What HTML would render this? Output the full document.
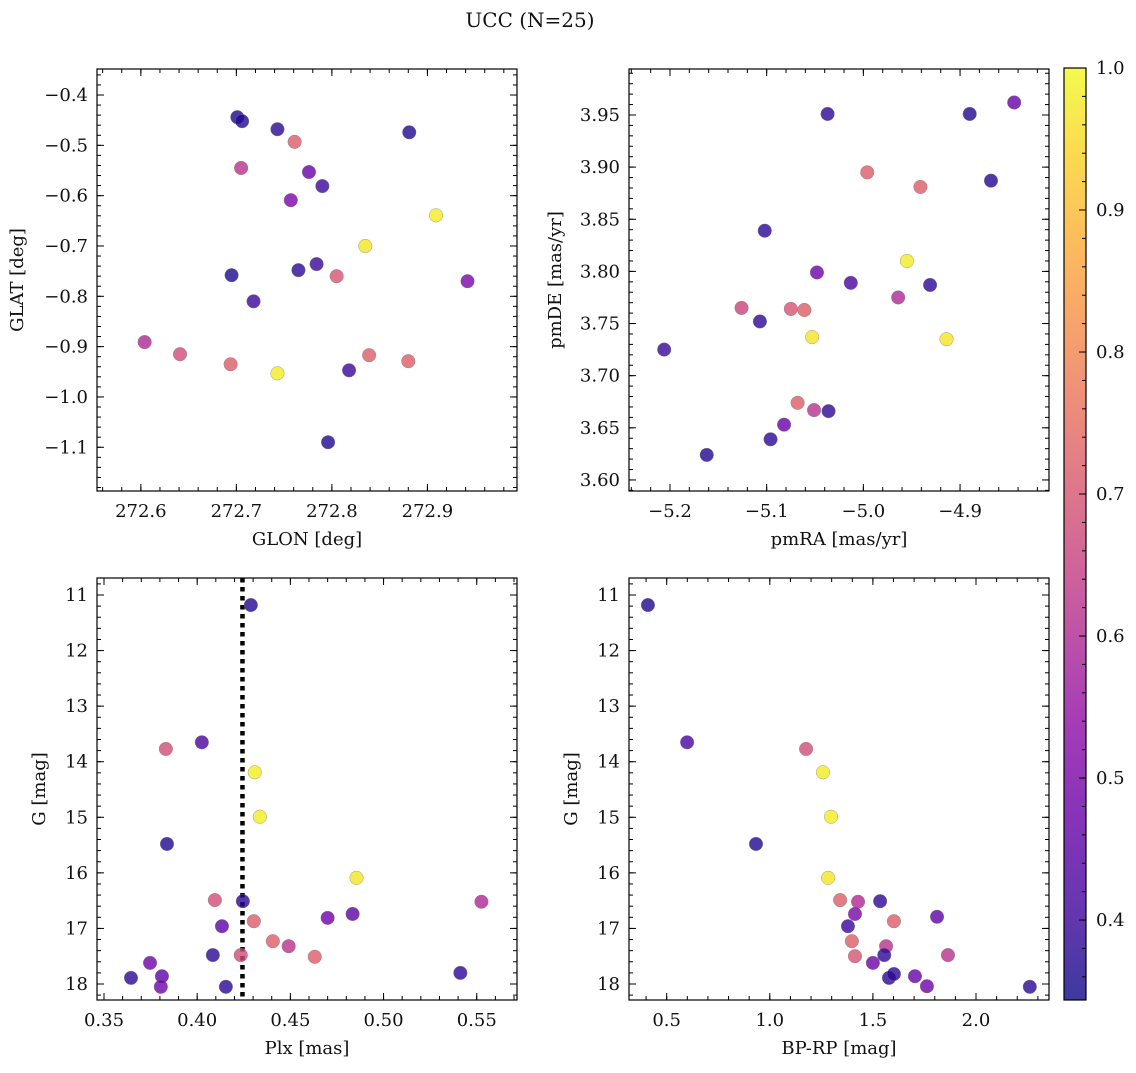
<!DOCTYPE html>
<html><head><meta charset="utf-8"><style>
body{margin:0;background:#fff;}
svg text{font-family:"DejaVu Serif","Liberation Serif",serif;fill:#111;}
</style></head><body>
<svg id="fig" width="1136" height="1068" xmlns="http://www.w3.org/2000/svg">
<text x="530" y="27" font-size="20" text-anchor="middle">UCC (N=25)</text>
</svg>
<script>
// Panel 1: GLON vs GLAT
const glonX=[272.701,272.706,272.743,272.761,272.881,272.705,272.776,272.790,272.757,272.909,272.835,272.765,272.784,272.805,272.695,272.718,272.942,272.604,272.641,272.694,272.743,272.818,272.839,272.880,272.796];
const glatY=[-0.444,-0.452,-0.468,-0.493,-0.474,-0.545,-0.553,-0.581,-0.609,-0.639,-0.700,-0.748,-0.736,-0.760,-0.758,-0.810,-0.770,-0.891,-0.915,-0.935,-0.953,-0.947,-0.917,-0.929,-1.090];
const glatC=[0.36,0.37,0.38,0.72,0.37,0.62,0.47,0.40,0.50,0.98,0.97,0.38,0.40,0.70,0.36,0.40,0.50,0.60,0.68,0.72,0.98,0.40,0.72,0.72,0.37];
// Panel 2: pmRA vs pmDE
const pmraX=[-4.844,-4.890,-5.037,-4.996,-4.941,-4.868,-5.102,-4.955,-5.048,-5.013,-4.931,-4.964,-5.126,-5.075,-5.061,-5.107,-5.053,-4.914,-5.206,-5.068,-5.051,-5.036,-5.082,-5.096,-5.162];
const pmdeY=[3.962,3.951,3.951,3.895,3.881,3.887,3.839,3.810,3.799,3.789,3.787,3.775,3.765,3.764,3.763,3.752,3.737,3.735,3.725,3.674,3.667,3.666,3.653,3.639,3.624];
const pmC=[0.47,0.37,0.38,0.72,0.72,0.37,0.38,0.98,0.48,0.42,0.38,0.60,0.66,0.70,0.72,0.38,0.97,0.97,0.40,0.72,0.62,0.38,0.47,0.38,0.37];
// Panel 3: Plx vs G
const plxX=[0.4288,0.3832,0.4025,0.4309,0.4336,0.3838,0.4855,0.4095,0.4245,0.5525,0.4304,0.4700,0.4834,0.4133,0.4406,0.4491,0.4084,0.4234,0.4631,0.3747,0.3645,0.3811,0.3805,0.4154,0.5412];
const plxG=[11.18,13.77,13.65,14.19,14.99,15.48,16.09,16.49,16.51,16.52,16.87,16.81,16.74,16.96,17.23,17.32,17.48,17.48,17.51,17.62,17.89,17.86,18.05,18.05,17.80];
const plxC=[0.37,0.68,0.42,0.98,0.98,0.37,0.97,0.68,0.38,0.60,0.72,0.48,0.45,0.45,0.72,0.62,0.38,0.68,0.72,0.48,0.38,0.45,0.48,0.38,0.38];
const plxLine=[0.4243];
// Panel 4: BP-RP vs G
const bprpX=[0.409,0.599,1.176,1.258,1.297,0.933,1.283,1.341,1.535,1.428,1.602,1.811,1.413,1.379,1.398,1.564,1.555,1.413,1.864,1.500,1.578,1.602,1.704,1.762,2.261];
const bprpG=[11.18,13.65,13.77,14.19,14.99,15.48,16.09,16.49,16.51,16.52,16.87,16.79,16.74,16.96,17.23,17.32,17.48,17.50,17.48,17.62,17.89,17.82,17.86,18.04,18.05];
const bprpC=[0.37,0.42,0.68,0.98,0.98,0.37,0.97,0.72,0.38,0.60,0.72,0.45,0.50,0.40,0.72,0.62,0.38,0.70,0.62,0.48,0.38,0.38,0.47,0.48,0.38];
// tick labels
const p1XTicks=[272.6,272.7,272.8,272.9];
const p1YTicks=[-0.4,-0.5,-0.6,-0.7,-0.8,-0.9,-1.0,-1.1];
const p2XTicks=[-5.2,-5.1,-5.0,-4.9];
const p2YTicks=[3.60,3.65,3.70,3.75,3.80,3.85,3.90,3.95];
const p3XTicks=[0.35,0.40,0.45,0.50,0.55];
const gTicks=[11,12,13,14,15,16,17,18];
const p4XTicks=[0.5,1.0,1.5,2.0];
const cbTicks=[0.4,0.5,0.6,0.7,0.8,0.9,1.0];
const cMin=0.3437, cMax=1.0;

const NS="http://www.w3.org/2000/svg";
const svg=document.getElementById('fig');
function mk(tag,attrs,parent){const e=document.createElementNS(NS,tag);for(const k in attrs)e.setAttribute(k,attrs[k]);(parent||svg).appendChild(e);return e;}
const stops=[[13,8,135],[65,4,157],[106,0,168],[143,13,164],[177,42,144],[204,71,120],[225,100,98],[242,132,75],[252,166,54],[252,206,37],[240,249,33]];
function plasma(v){let t=(v-cMin)/(cMax-cMin);t=Math.max(0,Math.min(1,t));const f=t*10,i=Math.min(9,Math.floor(f)),r=f-i;const a=stops[i],b=stops[i+1];return 'rgb('+a.map((x,k)=>Math.round(x+(b[k]-x)*r)).join(',')+')';}
function fmt(v,d){return (v<0?'\u2212':'')+Math.abs(v).toFixed(d);}

function panel(o){
  const g=mk('g',{});
  
  
  const sx=v=>o.x0+(v-o.xmin)/(o.xmax-o.xmin)*(o.x1-o.x0);
  const sy=v=>o.invert? o.y0+(v-o.ymin)/(o.ymax-o.ymin)*(o.y1-o.y0) : o.y1-(v-o.ymin)/(o.ymax-o.ymin)*(o.y1-o.y0);
  const tk=mk('g',{stroke:'#000','stroke-width':1},g);
  
  
  const lo=Math.ceil(o.xmin/o.xminor-1e-6),hi=Math.floor(o.xmax/o.xminor+1e-6);
  for(let i=lo;i<=hi;i++){const x=sx(i*o.xminor);mk('line',{x1:x,x2:x,y1:o.y1,y2:o.y1-4},tk);mk('line',{x1:x,x2:x,y1:o.y0,y2:o.y0+4},tk);}
  const ylo=Math.ceil(Math.min(o.ymin,o.ymax)/o.yminor-1e-6),yhi=Math.floor(Math.max(o.ymin,o.ymax)/o.yminor+1e-6);
  for(let i=ylo;i<=yhi;i++){const y=sy(i*o.yminor);mk('line',{x1:o.x0,x2:o.x0+4,y1:y,y2:y},tk);mk('line',{x1:o.x1,x2:o.x1-4,y1:y,y2:y},tk);}
  o.xt.forEach(v=>{const x=sx(v);mk('line',{x1:x,x2:x,y1:o.y1,y2:o.y1-7},tk);mk('line',{x1:x,x2:x,y1:o.y0,y2:o.y0+7},tk);
    const t=mk('text',{x:x,y:o.y1+26,'font-size':18,'text-anchor':'middle'},g);t.textContent=fmt(v,o.xd);
    });
  o.yt.forEach(v=>{const y=sy(v);mk('line',{x1:o.x0,x2:o.x0+7,y1:y,y2:y},tk);mk('line',{x1:o.x1,x2:o.x1-7,y1:y,y2:y},tk);
    const t=mk('text',{x:o.x0-9,y:y+6,'font-size':18,'text-anchor':'end'},g);t.textContent=fmt(v,o.yd);
    });
  if(o.vline){o.vline.forEach(v=>{const l=mk('line',{x1:sx(v),x2:sx(v),y1:o.y0,y2:o.y1,stroke:'#000','stroke-width':4.5,'stroke-dasharray':'4.5,4.5'},g);
    });}
  o.xs.forEach((v,i)=>{const c=mk('circle',{cx:sx(v),cy:sy(o.ys[i]),r:6.8,fill:plasma(o.cs[i]),'fill-opacity':0.8,stroke:'#777','stroke-width':0.5,'stroke-opacity':0.7},g);
    });
  const fr=mk('rect',{x:o.x0,y:o.y0,width:o.x1-o.x0,height:o.y1-o.y0,fill:'none',stroke:'#000','stroke-width':1.2},g);
  
  const xl=mk('text',{x:(o.x0+o.x1)/2,y:o.y1+54,'font-size':18,'text-anchor':'middle'},g);xl.textContent=o.xlabel;
  
  const cy=(o.y0+o.y1)/2;
  const yl=mk('text',{x:o.ylx,y:cy,'font-size':18,'text-anchor':'middle',transform:'rotate(-90 '+o.ylx+' '+cy+')'},g);yl.textContent=o.ylabel;
  
}
panel({name:'glon-glat-panel',x0:97,x1:517,y0:69,y1:491,xmin:272.5541,xmax:272.9938,ymin:-1.1869,ymax:-0.3483,xminor:0.02,yminor:0.02,xt:p1XTicks,yt:p1YTicks,xd:1,yd:1,xs:glonX,ys:glatY,cs:glatC,xlabel:'GLON [deg]',ylabel:'GLAT [deg]',ylx:23});
panel({name:'pm-panel',x0:629,x1:1049,y0:69,y1:491,xmin:-5.2424,xmax:-4.808,ymin:3.5894,ymax:3.9941,xminor:0.02,yminor:0.01,xt:p2XTicks,yt:p2YTicks,xd:1,yd:2,xs:pmraX,ys:pmdeY,cs:pmC,xlabel:'pmRA [mas/yr]',ylabel:'pmDE [mas/yr]',ylx:561});
panel({name:'plx-g-panel',x0:97,x1:517,y0:578,y1:1000,xmin:0.34625,xmax:0.5716,ymin:10.694,ymax:18.288,invert:true,xminor:0.01,yminor:0.2,xt:p3XTicks,yt:gTicks,xd:2,yd:0,xs:plxX,ys:plxG,cs:plxC,vline:plxLine,xlabel:'Plx [mas]',ylabel:'G [mag]',ylx:45});
panel({name:'cmd-panel',x0:629,x1:1049,y0:578,y1:1000,xmin:0.3172,xmax:2.354,ymin:10.694,ymax:18.288,invert:true,xminor:0.1,yminor:0.2,xt:p4XTicks,yt:gTicks,xd:1,yd:0,xs:bprpX,ys:bprpG,cs:bprpC,xlabel:'BP-RP [mag]',ylabel:'G [mag]',ylx:577});

const cb=mk('g',{});


const defs=mk('defs',{},cb);
const lg=mk('linearGradient',{id:'plasmaGrad',x1:0,y1:1,x2:0,y2:0},defs);
for(let i=0;i<=20;i++){const v=cMin+(cMax-cMin)*i/20;mk('stop',{offset:(i/20),'stop-color':plasma(v),'stop-opacity':0.8},lg);}
const CB={x0:1064,x1:1086,y0:68,y1:1000};
const cs=v=>CB.y1-(v-cMin)/(cMax-cMin)*(CB.y1-CB.y0);
mk('rect',{x:CB.x0,y:CB.y0,width:CB.x1-CB.x0,height:CB.y1-CB.y0,fill:'url(#plasmaGrad)'},cb);
for(let v=0.36;v<=1.0001;v+=0.02){const y=cs(v);mk('line',{x1:CB.x1,x2:CB.x1-4,y1:y,y2:y,stroke:'#000','stroke-width':1},cb);}
cbTicks.forEach(v=>{const y=cs(v);mk('line',{x1:CB.x1,x2:CB.x1-7,y1:y,y2:y,stroke:'#000','stroke-width':1},cb);
  const t=mk('text',{x:CB.x1+10,y:y+6,'font-size':18},cb);t.textContent=v.toFixed(1);
  });
mk('rect',{x:CB.x0,y:CB.y0,width:CB.x1-CB.x0,height:CB.y1-CB.y0,fill:'none',stroke:'#000','stroke-width':1.2},cb);
</script>
</body></html>
